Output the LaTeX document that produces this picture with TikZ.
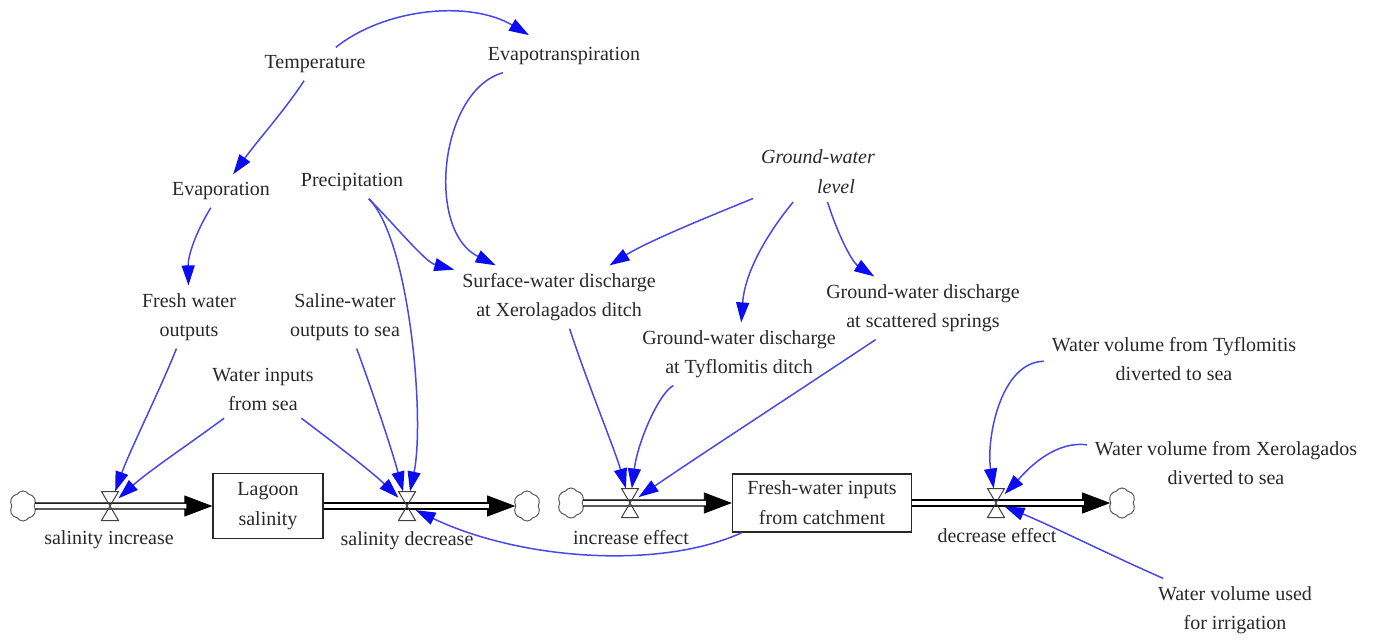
\documentclass[tikz,border=0pt]{standalone}
\usepackage{fontspec}
\setmainfont{Liberation Serif}
\usetikzlibrary{arrows.meta,shapes.symbols}
\definecolor{linkblue}{RGB}{72,72,232}
\definecolor{tipblue}{RGB}{12,12,240}
\definecolor{inkgray}{RGB}{40,40,40}
\begin{document}
\begin{tikzpicture}[x=1pt,y=-1pt,
  txt/.style={align=center, inner sep=3pt, outer sep=5pt,
    font=\fontsize{20}{29}\selectfont, text=inkgray},
  stock/.style={draw=inkgray, line width=1.3pt, align=center, inner sep=2pt,
    font=\fontsize{20}{30}\selectfont, text=inkgray},
  cloudsym/.style={cloud, cloud puffs=6, cloud puff arc=115, cloud ignores aspect,
    draw=black!65, line width=1pt, minimum width=27pt, minimum height=30pt,
    inner sep=0pt},
  valve/.style={minimum width=17pt, minimum height=29pt, inner sep=0pt, outer sep=0pt},
  valvesym/.style={draw=black!75, line width=1pt},
  link/.style={draw=linkblue, line width=1.5pt,
    -{Triangle[length=20pt,width=13pt,color=tipblue]}},
  pipe/.style={draw=black, line width=1.4pt, double=white, double distance=4.5pt,
    shorten >=26pt},
  pipetip/.style={draw=black, line width=0.8pt, -{Triangle[length=28pt,width=21pt]}},
]
\useasboundingbox (0,0) rectangle (1376,640);

% ---------- stocks, clouds and valves ----------
\node[stock, minimum width=110pt, minimum height=65pt] (lag) at (268,506) {Lagoon\\salinity};
\node[stock, minimum width=179pt, minimum height=58pt] (fwc) at (822,503) {Fresh-water inputs\\from catchment};

\node[cloudsym] (c1) at (23,506) {};
\node[cloudsym] (c2) at (527,506) {};
\node[cloudsym] (c3) at (571,503) {};
\node[cloudsym] (c4) at (1122,503) {};

\node[valve] (v1) at (110,506) {};
\node[valve] (v2) at (407,506) {};
\node[valve] (v3) at (630,503) {};
\node[valve] (v4) at (996,503) {};

% ---------- pipes ----------
\draw[pipetip] (c1) -- (lag);  \draw[pipe] (c1) -- (lag);
\draw[pipetip] (lag) -- (c2);  \draw[pipe] (lag) -- (c2);
\draw[pipetip] (c3) -- (fwc);  \draw[pipe] (c3) -- (fwc);
\draw[pipetip] (fwc) -- (c4);  \draw[pipe] (fwc) -- (c4);

\foreach \v in {v1,v2,v3,v4}
  \draw[valvesym] (\v.north west) -- (\v.north east) -- (\v.south west) -- (\v.south east) -- cycle;

% ---------- flow labels ----------
\node[txt] (lsi) at (109,540) {salinity increase};
\node[txt] (lsd) at (407,541) {salinity decrease};
\node[txt] (lie) at (631,538) {increase effect};
\node[txt] (lde) at (997,536) {decrease effect};

% ---------- auxiliary variables ----------
\node[txt] (temp) at (315,64) {Temperature};
\node[txt] (evt)  at (564,56) {Evapotranspiration};
\node[txt] (evap) at (221,191) {Evaporation};
\node[txt] (prec) at (352,182) {Precipitation};
\node[txt, font=\fontsize{20}{30}\selectfont\itshape] (gwl) at (818,172) {Ground-water\\\hspace*{36pt}level};
\node[txt] (fwo) at (189,317) {Fresh water\\outputs};
\node[txt] (swo) at (345,317) {Saline-water\\outputs to sea};
\node[txt] (wis) at (263,389) {Water inputs\\from sea};
\node[txt] (swd) at (559,297) {Surface-water discharge\\at Xerolagados ditch};
\node[txt] (gtd) at (739,354) {Ground-water discharge\\at Tyflomitis ditch};
\node[txt] (gsd) at (923,308) {Ground-water discharge\\at scattered springs};
\node[txt] (wtd) at (1174,359) {Water volume from Tyflomitis\\diverted to sea};
\node[txt] (wxd) at (1226,463) {Water volume from Xerolagados\\diverted to sea};
\node[txt] (wir) at (1235,610) {Water volume used\\for irrigation};

% ---------- causal links ----------
\draw[link, shorten >=8pt] (temp) .. controls (385,8) and (470,0) .. (evt);
\draw[link] (temp) .. controls (285,110) and (258,140) .. (evap);
\draw[link] (evt) .. controls (440,90) and (425,230) .. (swd);
\draw[link] (evap) .. controls (196,232) and (188,255) .. (fwo);
\draw[link] (prec) .. controls (395,225) and (425,262) .. (swd);
\draw[link] (prec) .. controls (410,240) and (425,420) .. (v2);
\draw[link] (swo) .. controls (372,390) and (392,450) .. (v2);
\draw[link] (wis) .. controls (330,440) and (370,470) .. (v2);
\draw[link] (wis) .. controls (195,440) and (150,470) .. (v1);
\draw[link] (fwo) .. controls (160,390) and (130,450) .. (v1);
\draw[link] ([xshift=10pt]fwc.south west) .. controls (660,570) and (520,560) .. (v2);
\draw[link] (gwl) .. controls (720,212) and (650,240) .. (swd);
\draw[link] (gwl) .. controls (770,230) and (745,270) .. (gtd);
\draw[link] (gwl) .. controls (838,235) and (852,262) .. (gsd);
\draw[link] (swd) .. controls (590,390) and (615,450) .. (v3);
\draw[link] (gtd) .. controls (660,392) and (638,440) .. (v3);
\draw[link] (gsd) .. controls (800,390) and (700,455) .. (v3);
\draw[link] (wtd) .. controls (1000,362) and (986,440) .. (v4);
\draw[link] (wxd) .. controls (1050,440) and (1020,478) .. (v4);
\draw[link] (wir) .. controls (1110,555) and (1050,525) .. (v4);
\end{tikzpicture}
\end{document}
